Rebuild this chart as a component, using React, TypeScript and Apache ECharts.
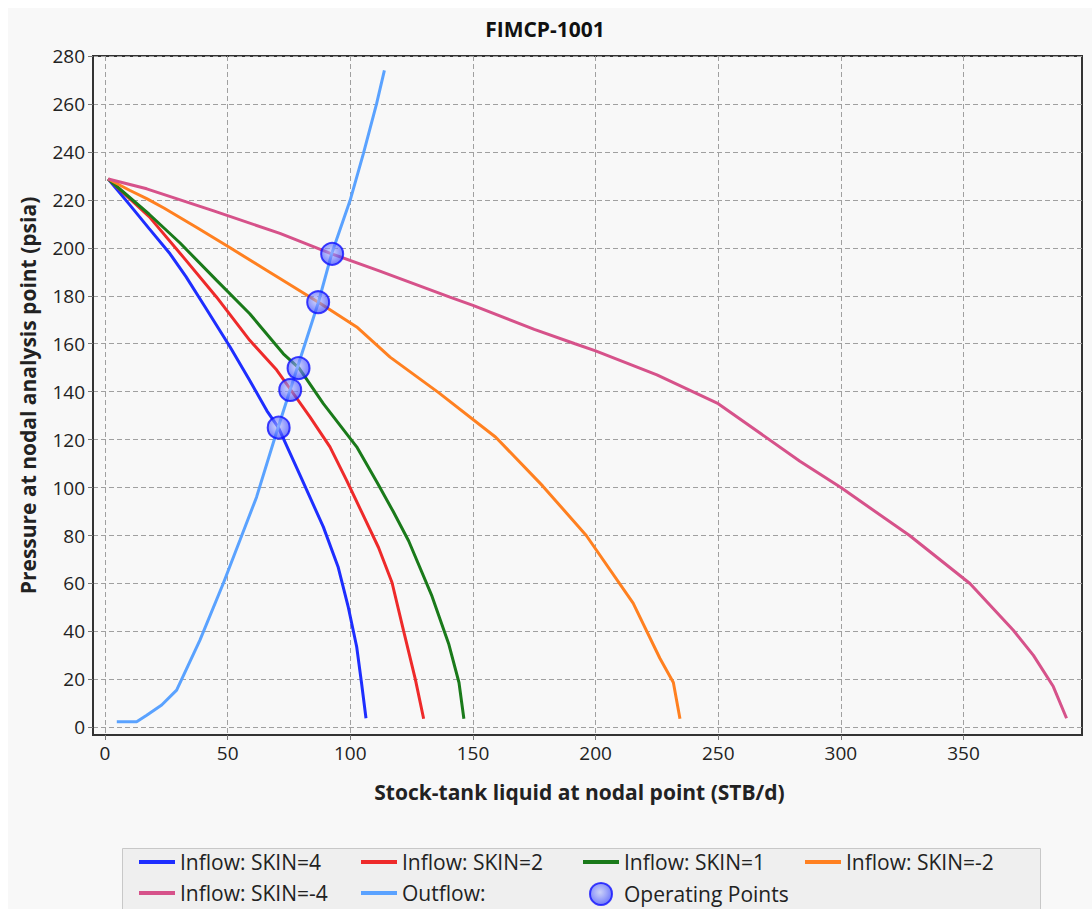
import React, { useEffect, useRef } from "react";
import * as echarts from "echarts";

const titleText = "FIMCP-1001";
const xName = "Stock-tank liquid at nodal point (STB/d)";
const yName = "Pressure at nodal analysis point (psia)";

const xTicks = [0, 50, 100, 150, 200, 250, 300, 350];
const yTicks = [0, 20, 40, 60, 80, 100, 120, 140, 160, 180, 200, 220, 240, 260, 280];

const seriesNames = [
  "Inflow: SKIN=4",
  "Inflow: SKIN=2",
  "Inflow: SKIN=1",
  "Inflow: SKIN=-2",
  "Inflow: SKIN=-4",
  "Outflow:",
  "Operating Points",
];

const skin4 = [
  [1.3, 228.7], [10, 218], [18, 208], [26.5, 197.5], [33, 188], [41, 175], [51, 158.6],
  [59, 144.7], [66, 132], [70.7, 125], [80, 104], [89, 83.6], [95, 67], [99.2, 50],
  [102.6, 33.6], [104.6, 18.3], [106.4, 3.8],
];
const skin2 = [
  [1.3, 228.7], [18, 213], [32, 196], [45.5, 179.4], [59, 161.4], [70, 149], [75.7, 140.8],
  [83.6, 129.4], [91.7, 117], [98.5, 103], [105, 89], [111.5, 75], [117, 60.4], [121.7, 40.3],
  [126.5, 20.1], [129.9, 3.6],
];
const skin1 = [
  [1.3, 228.7], [18, 214], [30.6, 202], [45.5, 186.4], [59, 172.5], [72.7, 155.8], [79.1, 149.8],
  [89, 135], [102.6, 117], [111, 102], [117.5, 90], [123.8, 77.7], [133.3, 54.7], [140.2, 34.5],
  [144.3, 18.7], [146.3, 3.6],
];
const skinM2 = [
  [1.3, 228.7], [10, 224], [17, 220.5], [24, 216.6], [37.4, 208.5], [51, 200], [64.5, 191.5],
  [71.3, 187.2], [87, 177.3], [102.6, 167], [116.2, 154.4], [136, 139.6], [159.3, 121],
  [178.4, 100.7], [196.2, 80], [215.3, 51.8], [226.2, 28.8], [231.7, 18.7], [234.4, 3.6],
];
const skinM4 = [
  [1.3, 228.7], [17, 224.6], [44, 215.5], [71.3, 206], [92.4, 197.5], [111.5, 190.5],
  [140.6, 179.4], [150, 176], [175, 166], [191.6, 160], [200, 157], [225, 147], [250, 135],
  [283.3, 111], [300, 100], [328, 80], [352.6, 60], [370.3, 40.5], [378.5, 30], [386.6, 17],
  [392, 3.8],
];
const outflow = [
  [4.8, 2.3], [12.9, 2.3], [17, 5], [23.1, 9.3], [29.2, 15.5], [38.7, 36.4], [48.2, 60],
  [55, 78], [61.8, 96.1], [69.3, 121], [75.4, 140.5], [87, 177.3], [92.4, 197.5],
  [99.9, 219.7], [105.3, 239.2], [110.7, 260], [113.9, 274],
];
const opRate = [70.8, 75.5, 78.9, 86.9, 92.6];
const opPressure = [125, 140.7, 149.8, 177.3, 197.5];

const colors = ["#1e2eff", "#ee2a2a", "#1a7a1a", "#ff8020", "#d6528a", "#5aa2ff"];
const FONT = "'Open Sans', 'Noto Sans', sans-serif";
const BAR_ICON = "path://M0 0H36V4H0Z";

export default function App() {
  const ref = useRef<HTMLDivElement>(null);
  useEffect(() => {
    const chart = echarts.init(ref.current as HTMLDivElement, null, { renderer: "svg" });
    const lineData = [skin4, skin2, skin1, skinM2, skinM4, outflow];
    const lineSeries = lineData.map((d, i) => ({
      name: seriesNames[i],
      type: "line",
      data: d,
      symbol: "none",
      showSymbol: false,
      smooth: false,
      lineStyle: { color: colors[i], width: 3 },
      itemStyle: { color: colors[i] },
      z: 2,
    }));
    const opFill = new echarts.graphic.RadialGradient(0.45, 0.42, 0.6, [
      { offset: 0, color: "rgba(175,185,255,0.7)" },
      { offset: 1, color: "rgba(45,60,255,0.85)" },
    ]);
    const opSeries = {
      name: seriesNames[6],
      type: "scatter",
      data: opRate.map((q, i) => [q, opPressure[i]]),
      symbol: "circle",
      symbolSize: 22,
      itemStyle: { color: opFill, borderColor: "#1010ff", borderWidth: 2 },
      z: 5,
    };
    const item = (idx: number) =>
      idx === 6 ? { name: seriesNames[idx], icon: "circle" } : { name: seriesNames[idx], icon: BAR_ICON };
    const legendCommon = {
      orient: "vertical",
      top: 843,
      itemWidth: 36,
      itemHeight: 22,
      itemGap: 9,
      padding: 0,
      textStyle: { fontSize: 21, color: "#222", fontFamily: FONT, lineHeight: 22 },
    };
    const option = {
      animation: false,
      backgroundColor: "#f8f8f8",
      textStyle: { fontFamily: FONT },
      title: {
        text: titleText,
        left: 537,
        top: 10,
        textAlign: "center",
        padding: 0,
        textStyle: { fontSize: 21, fontWeight: "bold", color: "#111", fontFamily: FONT },
      },
      graphic: [
        {
          type: "rect",
          left: 114,
          top: 840,
          z: 0,
          shape: { width: 918, height: 80 },
          style: { fill: "#efefef", stroke: "#c8c8c8", lineWidth: 1 },
        },
      ],
      legend: [
        { ...legendCommon, left: 131, data: [item(0), item(4)] },
        { ...legendCommon, left: 353, data: [item(1), item(5)] },
        { ...legendCommon, left: 575, data: [item(2), item(6)] },
        { ...legendCommon, left: 797, data: [item(3)] },
      ],
      grid: {
        left: 85,
        top: 48,
        right: 10,
        bottom: 174,
        show: true,
        borderColor: "#333",
        borderWidth: 2,
        backgroundColor: "transparent",
      },
      xAxis: {
        type: "value",
        min: -4.9,
        max: 398.3,
        name: xName,
        nameLocation: "middle",
        nameGap: 46,
        nameTextStyle: {
          fontSize: 21,
          fontWeight: "bold",
          color: "#222",
          fontFamily: FONT,
          padding: [0, 16, 0, 0],
        },
        axisLine: { show: true, onZero: false, lineStyle: { color: "#333", width: 2 } },
        axisTick: { show: true, customValues: xTicks, length: 5, lineStyle: { color: "#777" } },
        axisLabel: { customValues: xTicks, fontSize: 19, color: "#222", margin: 8, fontFamily: FONT },
        splitLine: { show: true, lineStyle: { type: [5, 3], color: "#a0a0a0", width: 1 } },
      },
      yAxis: {
        type: "value",
        min: -3.2,
        max: 280,
        name: yName,
        nameLocation: "middle",
        nameGap: 55,
        nameTextStyle: { fontSize: 21, fontWeight: "bold", color: "#222", fontFamily: FONT },
        axisLine: { show: true, onZero: false, lineStyle: { color: "#333", width: 2 } },
        axisTick: { show: true, customValues: yTicks, length: 5, lineStyle: { color: "#777" } },
        axisLabel: { customValues: yTicks, fontSize: 19, color: "#222", margin: 8, fontFamily: FONT },
        splitLine: { show: true, lineStyle: { type: [5, 3], color: "#a0a0a0", width: 1 } },
      },
      series: [...lineSeries, opSeries],
    };
    chart.setOption(option as any);
    return () => chart.dispose();
  }, []);
  return (
    <div
      ref={ref}
      style={{ position: "absolute", left: 8, top: 8, width: 1084, height: 901, background: "#f8f8f8" }}
    />
  );
}
